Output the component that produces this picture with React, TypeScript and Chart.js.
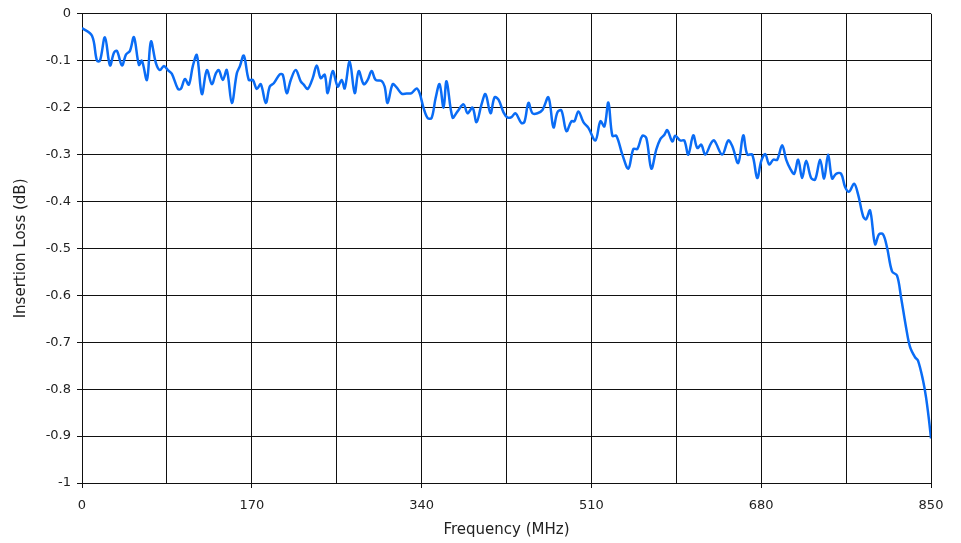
import React, { useEffect, useRef } from "react";
import { Chart, registerables } from "chart.js";

Chart.register(...registerables);

const FREQ_MHZ: number[] = [
  0, 10, 15, 18, 23, 28, 32, 35, 40, 44, 48, 52, 57, 60, 65, 69, 74, 78, 82, 86,
  90, 96, 99, 103, 107, 111, 115, 120, 125, 130, 134, 137, 141, 145, 150, 155, 158, 162, 167, 171,
  175, 179, 184, 188, 192, 198, 201, 205, 209, 214, 219, 222, 226, 231, 235, 239, 243, 246, 251, 256,
  260, 263, 268, 273, 277, 282, 286, 290, 294, 300, 303, 306, 311, 315, 320, 325, 330, 335, 338, 342,
  346, 350, 354, 358, 362, 365, 371, 376, 382, 386, 391, 395, 400, 404, 409, 413, 417, 422, 426, 430,
  434, 440, 443, 447, 451, 456, 461, 467, 472, 476, 480, 485, 490, 493, 497, 502, 507, 514, 519, 523,
  527, 531, 535, 541, 547, 552, 556, 561, 565, 570, 575, 579, 583, 586, 591, 594, 599, 603, 607, 612,
  616, 620, 624, 630, 633, 641, 647, 651, 657, 662, 666, 671, 676, 680, 684, 688, 692, 696, 701, 705,
  709, 713, 717, 721, 725, 730, 734, 739, 743, 747, 751, 755, 760, 764, 768, 773, 777, 782, 785, 789,
  794, 798, 802, 806, 811, 816, 820, 825, 829, 834, 837, 842, 845, 848, 850,
];

const INSERTION_LOSS_DB: number[] = [
  -0.03, -0.047, -0.1, -0.1, -0.05, -0.11, -0.083, -0.079, -0.11, -0.087, -0.079, -0.05, -0.109, -0.1, -0.141, -0.059, -0.105, -0.12, -0.111, -0.12,
  -0.128, -0.16, -0.16, -0.139, -0.151, -0.111, -0.088, -0.171, -0.12, -0.15, -0.127, -0.12, -0.141, -0.12, -0.19, -0.127, -0.112, -0.089, -0.141, -0.141,
  -0.16, -0.15, -0.19, -0.155, -0.148, -0.129, -0.13, -0.169, -0.141, -0.12, -0.144, -0.151, -0.16, -0.137, -0.11, -0.137, -0.13, -0.169, -0.122, -0.155,
  -0.141, -0.159, -0.102, -0.169, -0.122, -0.15, -0.141, -0.122, -0.141, -0.143, -0.155, -0.19, -0.15, -0.157, -0.17, -0.17, -0.169, -0.159, -0.169, -0.201,
  -0.222, -0.222, -0.18, -0.15, -0.2, -0.144, -0.221, -0.208, -0.193, -0.212, -0.2, -0.231, -0.193, -0.171, -0.212, -0.178, -0.183, -0.21, -0.221, -0.22,
  -0.212, -0.233, -0.23, -0.19, -0.212, -0.212, -0.205, -0.178, -0.242, -0.21, -0.206, -0.25, -0.229, -0.229, -0.208, -0.231, -0.243, -0.27, -0.229, -0.24,
  -0.189, -0.26, -0.26, -0.3, -0.33, -0.288, -0.288, -0.26, -0.265, -0.33, -0.289, -0.267, -0.258, -0.248, -0.272, -0.26, -0.27, -0.27, -0.3, -0.259,
  -0.286, -0.279, -0.3, -0.275, -0.27, -0.3, -0.27, -0.282, -0.318, -0.259, -0.3, -0.3, -0.35, -0.314, -0.299, -0.321, -0.311, -0.311, -0.28, -0.311,
  -0.33, -0.341, -0.311, -0.35, -0.313, -0.35, -0.353, -0.311, -0.351, -0.3, -0.351, -0.341, -0.341, -0.369, -0.379, -0.362, -0.385, -0.431, -0.438, -0.419,
  -0.491, -0.47, -0.47, -0.498, -0.549, -0.558, -0.604, -0.668, -0.71, -0.732, -0.739, -0.781, -0.817, -0.866, -0.905,
];

const X_MIN = 0;
const X_MAX = 850;
const X_GRID_STEP = 85;
const X_LABEL_STEP = 170;
const Y_MIN = -1;
const Y_MAX = 0;
const Y_STEP = 0.1;

const X_TITLE = "Frequency (MHz)";
const Y_TITLE = "Insertion Loss (dB)";

const FONT = "'DejaVu Sans', Verdana, sans-serif";

export default function App() {
  const canvasRef = useRef<HTMLCanvasElement | null>(null);

  useEffect(() => {
    document.body.style.margin = "0";
    const canvas = canvasRef.current;
    if (!canvas) return;
    const points = FREQ_MHZ.map((f, i) => ({ x: f, y: INSERTION_LOSS_DB[i] }));
    const chart = new Chart(canvas, {
      type: "line",
      data: {
        datasets: [
          {
            data: points,
            borderColor: "#0a6cf5",
            borderWidth: 2.5,
            pointRadius: 0,
            tension: 0.35,
            fill: false,
          },
        ],
      },
      options: {
        animation: false,
        responsive: false,
        maintainAspectRatio: false,
        layout: { padding: { top: 12, right: 30, left: 0, bottom: 0 } },
        plugins: { legend: { display: false }, tooltip: { enabled: false } },
        scales: {
          x: {
            type: "linear",
            min: X_MIN,
            max: X_MAX,
            afterFit: (scale: any) => {
              scale.height = 60;
            },
            afterBuildTicks: (scale: any) => {
              const t = [];
              for (let v = X_MIN; v <= X_MAX; v += X_GRID_STEP) t.push({ value: v });
              scale.ticks = t;
            },
            ticks: {
              autoSkip: false,
              maxRotation: 0,
              padding: 10,
              color: "#222",
              font: { family: FONT, size: 13 },
              callback: (v: any) => (Math.round(v) % X_LABEL_STEP === 0 ? String(Math.round(v)) : ""),
            },
            grid: {
              color: "#111",
              lineWidth: 1,
              tickLength: 5,
              tickColor: (ctx: any) =>
                ctx.tick && Math.round(ctx.tick.value) % X_LABEL_STEP === 0 ? "#111" : "rgba(0,0,0,0)",
            },
            border: { color: "#111", width: 1 },
            title: {
              display: true,
              text: X_TITLE,
              color: "#222",
              font: { family: FONT, size: 15 },
              padding: { top: 0, bottom: 4 },
            },
          },
          y: {
            type: "linear",
            min: Y_MIN,
            max: Y_MAX,
            afterFit: (scale: any) => {
              scale.width = 82;
            },
            ticks: {
              stepSize: Y_STEP,
              padding: 6,
              color: "#222",
              font: { family: FONT, size: 13 },
              callback: (v: any) => {
                const n = Number(Number(v).toFixed(1));
                return n === 0 ? "0" : String(n);
              },
            },
            grid: { color: "#111", lineWidth: 1, tickLength: 5, tickColor: "#111" },
            border: { color: "#111", width: 1 },
            title: {
              display: true,
              text: Y_TITLE,
              color: "#222",
              font: { family: FONT, size: 15 },
              padding: { top: 12, bottom: 0 },
            },
          },
        },
      },
    });
    return () => chart.destroy();
  }, []);

  return (
    <div style={{ width: 961, height: 543, background: "#fff" }}>
      <canvas ref={canvasRef} width={961} height={543} style={{ display: "block", width: 961, height: 543 }} />
    </div>
  );
}
